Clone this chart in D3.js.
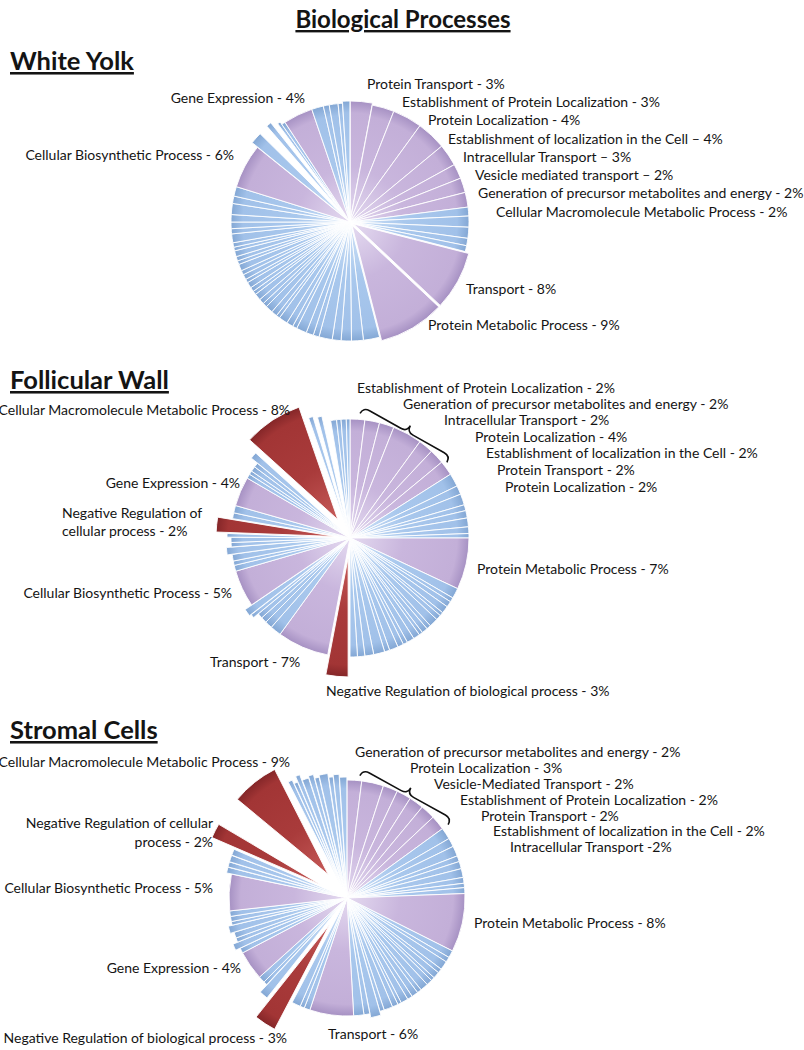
<!DOCTYPE html>
<html>
<head>
<meta charset="utf-8">
<script src="https://cdn.jsdelivr.net/npm/d3@7"></script>
<style>
  body { margin: 0; background: #fff; }
  text { font-family: Lato, "Open Sans", sans-serif; fill: #141414; }
</style>
</head>
<body>
<div id="chart"></div>
<script>
////////////////////////////////////////////////////////////////////
////////////////////////////  Data  ////////////////////////////////
// run-length helper: [[value, count], ...] -> flat array
const runs = (list) => list.flatMap(([v, n]) => Array(n).fill(v));

// slice kinds: p = labelled (purple), b = other terms (blue), r = regulation (red), g = empty gap
const wyValues = [
  3, 3, 4, 4, 3, 2, 2, 2,
  1.2, 1.5, 1.5, 1.0, 0.8,
  8, 9,
  2.2, 1.6, 1.4, 1.2, 1.8, 0.8, 1.0, 1.4, 0.6, 0.9, 1.2, 0.5, 0.8, 1.0, 0.6, 0.7, 0.9, 0.5,
  0.6, 0.8, 0.5, 0.7, 0.6, 0.9, 0.5, 0.6, 0.8, 0.5, 0.6, 1.2, 0.7, 0.9, 1.0, 1.5, 1.0, 1.3,
  6,
  1.6, 1.2, 0.7, 0.6, 0.4, 0.5,
  4,
  1.6, 0.8, 1.2, 0.6, 1.0,
];
const wyKinds = runs([["p", 8], ["b", 5], ["p", 2], ["b", 36], ["p", 1], ["b", 1], ["g", 1],
  ["b", 1], ["g", 1], ["b", 2], ["p", 1], ["b", 5]]);
const wyLabels = [
  "Protein Transport - 3%",
  "Establishment of Protein Localization - 3%",
  "Protein Localization - 4%",
  "Establishment of localization in the Cell \u2013 4%",
  "Intracellular Transport \u2013 3%",
  "Vesicle mediated transport \u2013 2%",
  "Generation of precursor metabolites and energy - 2%",
  "Cellular Macromolecule Metabolic Process - 2%",
  "Transport - 8%",
  "Protein Metabolic Process - 9%",
  "Gene Expression - 4%",
  "Cellular Biosynthetic Process - 6%",
];

const fwValues = [
  2, 2, 2, 4, 2, 2, 2,
  1.8, 1.2, 1.5, 0.8, 1.0, 1.2, 0.9, 0.6,
  7,
  1.4, 0.6, 0.8, 1.0, 0.5, 0.7, 1.2, 0.6, 0.8, 0.5, 0.9, 1.0, 0.6, 0.8, 1.2, 0.7, 1.5, 1.2, 1.0, 1.0,
  3,
  7,
  1.5, 1.0, 0.8, 0.7, 0.5, 1.0,
  5,
  0.8, 0.6, 0.9, 1.0, 0.6, 0.7, 0.5,
  2,
  0.8, 1.0,
  4,
  0.6, 0.5, 0.7, 0.6, 0.9,
  8,
  0.6, 0.5, 0.6, 1.0, 0.8, 0.6, 0.7, 0.5,
];
const fwKinds = runs([["p", 7], ["b", 8], ["p", 1], ["b", 20], ["r", 1], ["p", 1], ["b", 6], ["p", 1],
  ["b", 7], ["r", 1], ["b", 2], ["p", 1], ["b", 5], ["r", 1], ["b", 1], ["g", 1], ["b", 1], ["g", 1], ["b", 4]]);
const fwLabels = [
  "Establishment of Protein Localization - 2%",
  "Generation of precursor metabolites and energy - 2%",
  "Intracellular Transport - 2%",
  "Protein Localization - 4%",
  "Establishment of localization in the Cell - 2%",
  "Protein Transport - 2%",
  "Protein Localization - 2%",
  "Protein Metabolic Process - 7%",
  "Negative Regulation of biological process - 3%",
  "Transport - 7%",
  "Cellular Macromolecule Metabolic Process - 8%",
  "Gene Expression - 4%",
  "Negative Regulation of",
  "cellular process - 2%",
  "Cellular Biosynthetic Process - 5%",
];

const scValues = [
  2, 3, 2, 2, 2, 2, 2,
  1.6, 1.2, 1.4, 0.8, 1.0, 1.2, 0.8, 0.6, 0.8,
  8,
  1.0, 0.7, 1.2, 0.6, 0.9, 0.5, 0.8, 1.1, 0.6, 0.9, 0.7, 1.0, 0.5, 0.8, 1.2, 0.6, 1.4, 0.8, 1.4,
  6,
  0.8, 0.6, 1.2,
  3,
  1.2, 0.5, 0.9,
  4,
  0.7, 0.9, 0.6, 0.8, 1.0, 0.5, 0.7, 0.75,
  5,
  0.8, 0.7, 0.9, 0.85,
  2,
  2.5,
  6.5,
  0.6, 0.5, 0.6, 0.9, 0.7, 0.6, 1.2, 0.6, 0.8, 1.0,
];
const scKinds = runs([["p", 7], ["b", 9], ["p", 1], ["b", 19], ["p", 1], ["b", 3], ["r", 1], ["b", 3],
  ["p", 1], ["b", 8], ["p", 1], ["b", 4], ["r", 1], ["g", 1], ["r", 1], ["b", 10]]);
const scLabels = [
  "Generation of precursor metabolites and energy - 2%",
  "Protein Localization - 3%",
  "Vesicle-Mediated Transport - 2%",
  "Establishment of Protein Localization - 2%",
  "Protein Transport - 2%",
  "Establishment of localization in the Cell - 2%",
  "Intracellular Transport -2%",
  "Protein Metabolic Process - 8%",
  "Transport - 6%",
  "Cellular Macromolecule Metabolic Process - 9%",
  "Negative Regulation of cellular",
  "process - 2%",
  "Cellular Biosynthetic Process - 5%",
  "Gene Expression - 4%",
  "Negative Regulation of biological process - 3%",
];

////////////////////////////////////////////////////////////////////
////////////////////////////  Layout  //////////////////////////////
const width = 804;
const height = 1050;

// how far each slice is pulled out of its pie (px)
const wyPull = runs([[2, 1], [0, 7], [0, 5], [4, 2], [0, 36], [0, 1], [7, 1], [0, 1], [8, 1], [0, 1],
  [3, 1], [0, 1], [0, 1], [0, 4], [2, 1]]);
const fwPull = runs([[0, 7], [0, 8], [0, 1], [0, 20], [20, 1], [0, 1], [0, 4], [6, 1], [8, 1], [0, 1],
  [0, 3], [5, 1], [0, 2], [4, 1], [15, 1], [0, 2], [0, 1], [0, 4], [8, 1], [22, 1], [8, 1], [0, 1],
  [6, 1], [0, 1], [0, 4]]);
const scPull = runs([[0, 7], [0, 9], [0, 1], [0, 16], [4, 1], [0, 2], [0, 1], [0, 3], [32, 1], [10, 1],
  [0, 2], [0, 1], [0, 1], [5, 1], [0, 2], [4, 1], [0, 3], [0, 1], [5, 4], [30, 1], [0, 1], [30, 1],
  [12, 1], [8, 1], [14, 1], [8, 1], [10, 1], [6, 1], [8, 1], [4, 1], [6, 1], [3, 1]]);

// label anchors [x, y, text-anchor]
const wyLabelPos = [
  [367, 89, "start"], [402, 107, "start"], [428, 125, "start"], [448, 144, "start"],
  [463, 162, "start"], [475, 180, "start"], [478, 198, "start"], [496, 217, "start"],
  [466, 294, "start"], [428, 330, "start"],
  [305, 103, "end"], [234, 160, "end"],
];
const fwLabelPos = [
  [357, 393, "start"], [403, 409, "start"], [444, 425, "start"], [475, 442, "start"],
  [486, 458, "start"], [497, 475, "start"], [505, 492, "start"],
  [477, 574, "start"], [326, 696, "start"], [210, 667, "start"],
  [290, 415, "end"], [240, 488, "end"], [62, 518, "start"], [62, 536, "start"], [232, 598, "end"],
];
const scLabelPos = [
  [355, 757, "start"], [410, 773, "start"], [434, 789, "start"], [460, 805, "start"],
  [481, 821, "start"], [493, 836, "start"], [510, 852, "start"],
  [474, 928, "start"], [328, 1039, "start"],
  [290, 767, "end"], [213, 828, "end"], [213, 847, "end"], [213, 893, "end"],
  [241, 973, "end"], [287, 1043, "end"],
];

const colors = {
  p: ["#e4daf0", "#c9b6dd", "#c3afd8", "#a691c3"],
  b: ["#d4e5f8", "#a9c8ed", "#a1c1e9", "#83a7d4"],
  r: ["#c65a58", "#a93b3b", "#a23535", "#842628"],
};

const svg = d3.select("#chart").append("svg")
  .attr("width", width)
  .attr("height", height);

const defs = svg.append("defs");

////////////////////////////////////////////////////////////////////
////////////////////////////  Titles  //////////////////////////////
svg.append("text")
  .attr("x", 403).attr("y", 28)
  .attr("text-anchor", "middle")
  .style("font-size", "24px").style("font-weight", 700)
  .style("text-decoration", "underline")
  .text("Biological Processes");

[["White Yolk", 70], ["Follicular Wall", 389], ["Stromal Cells", 739]].forEach(([t, y]) => {
  svg.append("text")
    .attr("x", 10).attr("y", y)
    .style("font-size", "25.5px").style("font-weight", 700)
    .style("text-decoration", "underline")
    .text(t);
});

////////////////////////////////////////////////////////////////////
////////////////////////////  Pies  ////////////////////////////////
function drawPie(id, values, kinds, pulls, cx, cy, r) {
  const data = values.map((v, i) => ({ v, kind: kinds[i], pull: pulls[i] }));

  // one radial gradient per colour, centred on the slice's own origin
  Object.entries(colors).forEach(([k, c]) => {
    const grad = defs.append("radialGradient")
      .attr("id", `${id}-${k}`)
      .attr("gradientUnits", "userSpaceOnUse")
      .attr("cx", 0).attr("cy", 0).attr("r", r);
    grad.append("stop").attr("offset", "0%").attr("stop-color", c[0]);
    grad.append("stop").attr("offset", "45%").attr("stop-color", c[1]);
    grad.append("stop").attr("offset", "90%").attr("stop-color", c[2]);
    grad.append("stop").attr("offset", "100%").attr("stop-color", c[3]);
  });

  const pie = d3.pie().sort(null).value((d) => d.v);
  const arc = d3.arc().innerRadius(0).outerRadius(r);

  const g = svg.append("g").attr("transform", `translate(${cx},${cy})`);

  g.selectAll("path")
    .data(pie(data).filter((d) => d.data.kind !== "g"))
    .join("path")
    .attr("transform", (d) => {
      const mid = (d.startAngle + d.endAngle) / 2;
      const p = d.data.pull;
      return `translate(${Math.sin(mid) * p},${-Math.cos(mid) * p})`;
    })
    .attr("d", arc)
    .attr("fill", (d) => `url(#${id}-${d.data.kind})`)
    .attr("stroke", "#ffffff")
    .attr("stroke-width", 0.9)
    .attr("stroke-linejoin", "round");
}

function drawLabels(texts, pos) {
  svg.append("g").selectAll("text")
    .data(texts)
    .join("text")
    .attr("x", (d, i) => pos[i][0])
    .attr("y", (d, i) => pos[i][1])
    .attr("text-anchor", (d, i) => pos[i][2])
    .style("font-size", "14px")
    .text((d) => d);
}

// rotated curly brace grouping the labelled purple slices
function drawBrace(cx, cy, a1, r1, a2, r2, d) {
  const rad = Math.PI / 180;
  const A = [cx + Math.sin(a1 * rad) * r1, cy - Math.cos(a1 * rad) * r1];
  const B = [cx + Math.sin(a2 * rad) * r2, cy - Math.cos(a2 * rad) * r2];
  const len = Math.hypot(B[0] - A[0], B[1] - A[1]);
  const u = [(B[0] - A[0]) / len, (B[1] - A[1]) / len];
  let n = [u[1], -u[0]];
  const M = [(A[0] + B[0]) / 2, (A[1] + B[1]) / 2];
  if (n[0] * (M[0] - cx) + n[1] * (M[1] - cy) < 0) n = [-n[0], -n[1]];
  const pt = (p, a, b) => [p[0] + n[0] * a + u[0] * b, p[1] + n[1] * a + u[1] * b];

  const path = d3.path();
  path.moveTo(...A);
  path.quadraticCurveTo(...pt(A, d, 0), ...pt(A, d, d));
  path.lineTo(...pt(M, d, -d));
  path.quadraticCurveTo(...pt(M, d, 0), ...pt(M, 2 * d, 0));
  path.quadraticCurveTo(...pt(M, d, 0), ...pt(M, d, d));
  path.lineTo(...pt(B, d, -d));
  path.quadraticCurveTo(...pt(B, d, 0), ...B);

  svg.append("path")
    .attr("d", path.toString())
    .attr("fill", "none")
    .attr("stroke", "#111")
    .attr("stroke-width", 1.6);
}

drawPie("wy", wyValues, wyKinds, wyPull, 350, 222, 119);
drawPie("fw", fwValues, fwKinds, fwPull, 350, 538, 119);
drawPie("sc", scValues, scKinds, scPull, 347, 898, 118);

drawLabels(wyLabels, wyLabelPos);
drawLabels(fwLabels, fwLabelPos);
drawLabels(scLabels, scLabelPos);

drawBrace(350, 538, 4.6, 125, 52, 123, 7);
drawBrace(347, 898, 6, 123, 54, 125, 7);
</script>
</body>
</html>
